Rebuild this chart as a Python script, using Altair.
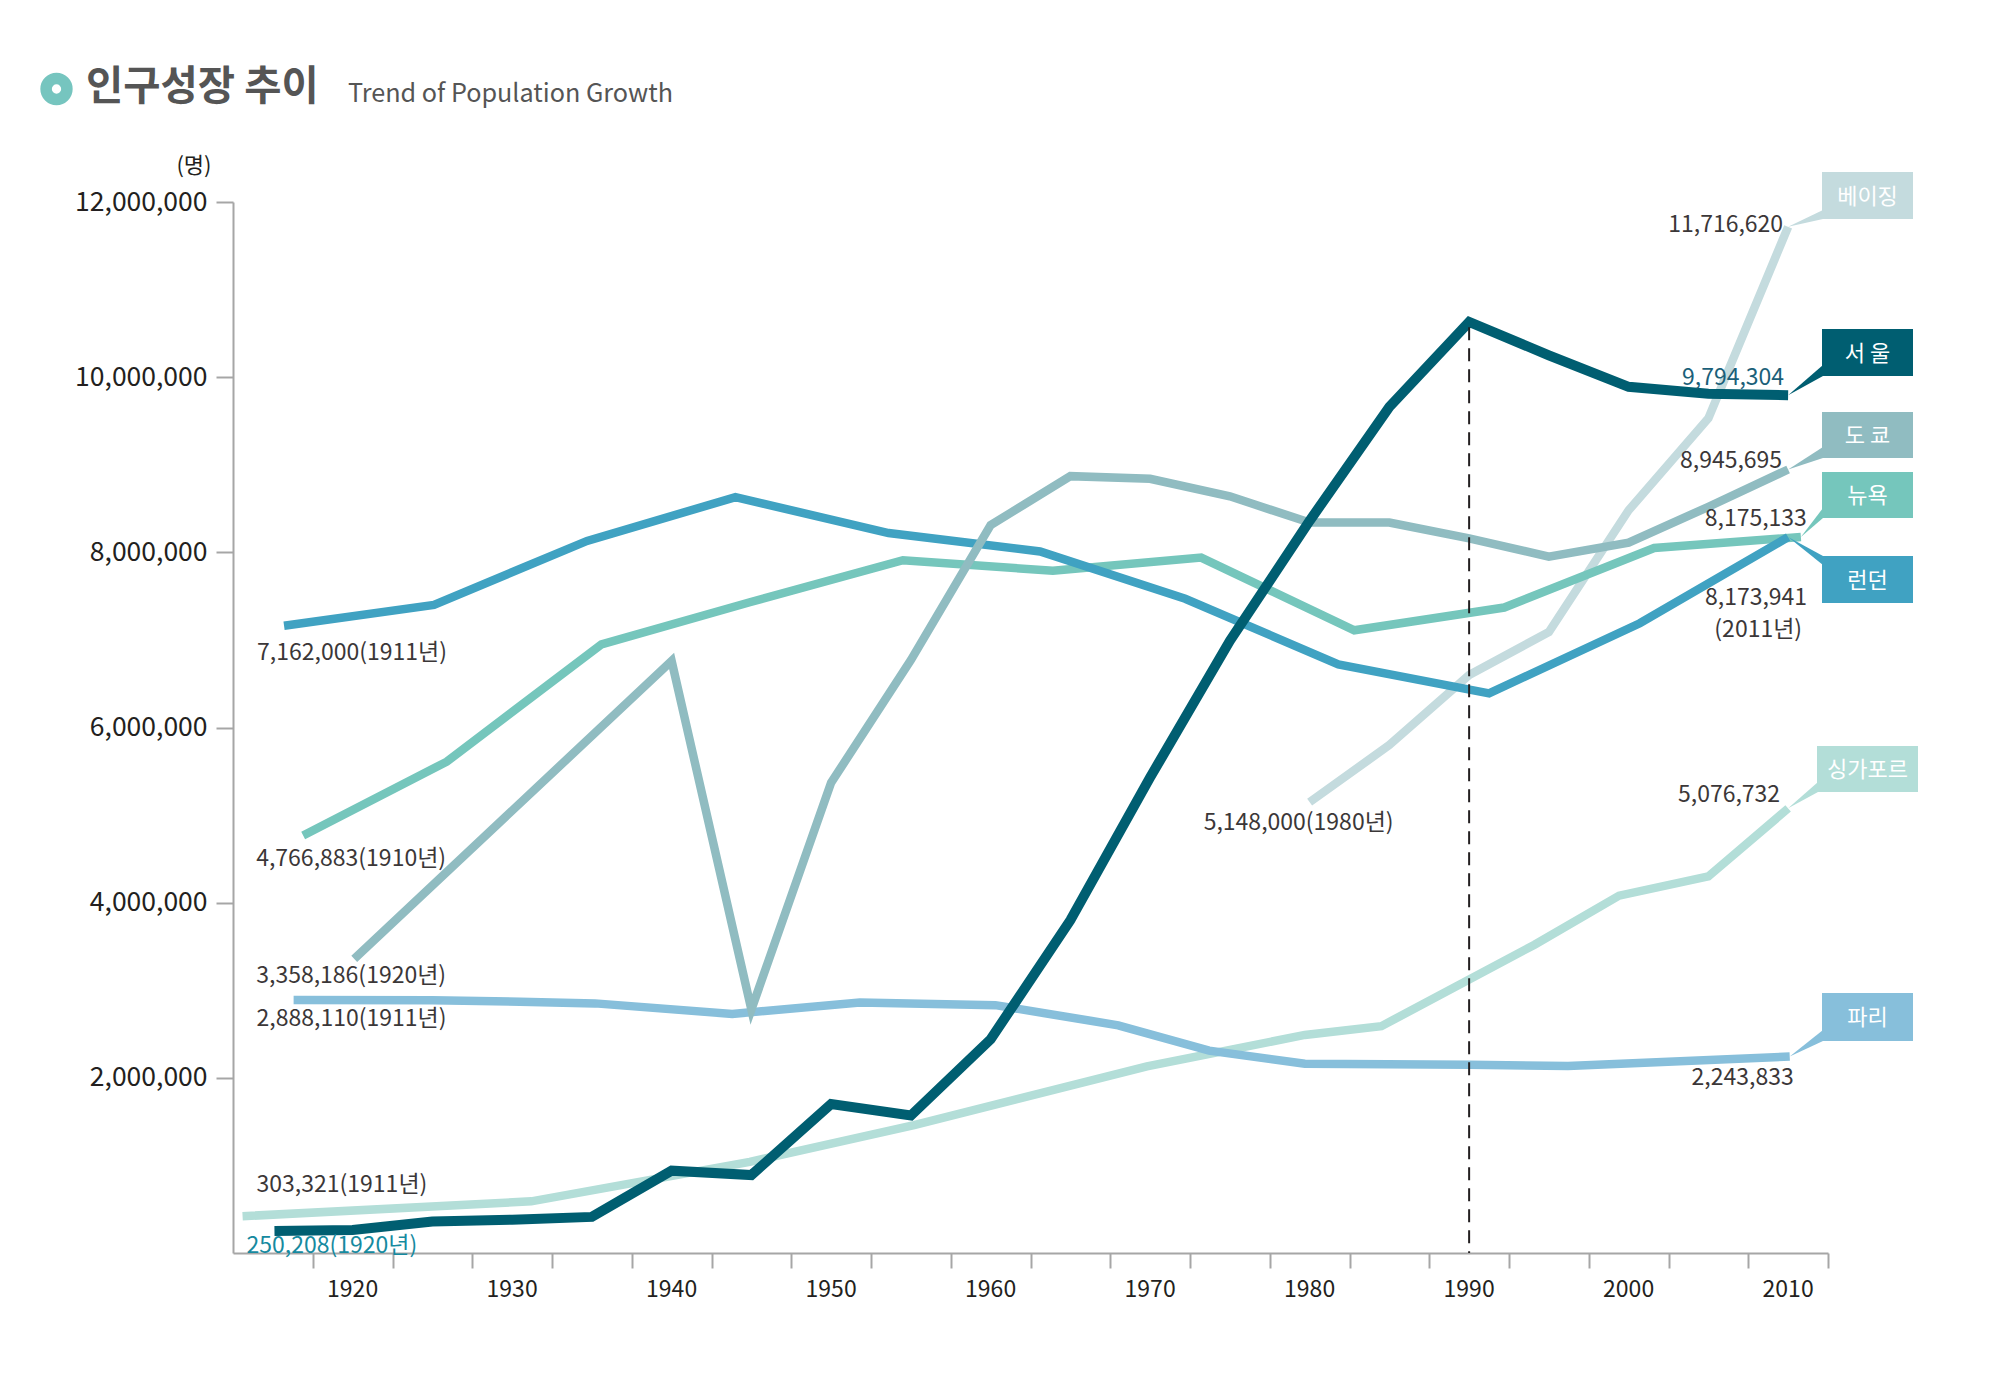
import altair as alt
import pandas as pd

FONT = "Noto Sans CJK KR"

# ---------------- data ----------------
seoul_years = [1915.1, 1920, 1925, 1930, 1935, 1940, 1945, 1950, 1955, 1960, 1965, 1970, 1975, 1980, 1985, 1990, 1995, 2000, 2005, 2010]
seoul_pop = [250208, 262000, 360000, 380000, 412000, 940000, 890000, 1700000, 1570000, 2440000, 3800000, 5430000, 6990000, 8360000, 9660000, 10630000, 10250000, 9890000, 9810000, 9794304]

london_years = [1915.7, 1925.1, 1934.7, 1944.0, 1953.6, 1963.1, 1972.2, 1981.8, 1991.25, 2000.7, 2010]
london_pop = [7162000, 7400000, 8130000, 8630000, 8220000, 8010000, 7470000, 6720000, 6390000, 7190000, 8173941]

newyork_years = [1916.9, 1925.9, 1935.6, 1944.9, 1954.5, 1963.9, 1973.2, 1982.8, 1992.2, 2001.6, 2010.8]
newyork_pop = [4766883, 5610000, 6950000, 7430000, 7910000, 7790000, 7940000, 7110000, 7370000, 8050000, 8175133]

tokyo_years = [1920.1, 1940, 1945, 1950, 1955, 1960, 1965, 1970, 1975, 1980, 1985, 1990, 1995, 2000, 2005, 2010]
tokyo_pop = [3358186, 6760000, 2780000, 5370000, 6770000, 8310000, 8870000, 8840000, 8640000, 8340000, 8340000, 8160000, 7950000, 8110000, 8520000, 8945695]

paris_years = [1916.3, 1925, 1930.5, 1935.2, 1943.8, 1951.8, 1960.3, 1968.0, 1973.7, 1979.7, 1990, 1996.2, 2010.1]
paris_pop = [2888110, 2885000, 2870000, 2850000, 2730000, 2860000, 2830000, 2600000, 2310000, 2160000, 2150000, 2135000, 2243833]

beijing_years = [1980, 1985, 1990, 1995, 2000, 2005, 2010]
beijing_pop = [5148000, 5800000, 6600000, 7090000, 8480000, 9530000, 11716620]

singapore_years = [1913.1, 1931.2, 1944.9, 1955.2, 1969.8, 1979.7, 1984.5, 1994.1, 1999.4, 2005, 2010]
singapore_pop = [420000, 590000, 1040000, 1460000, 2130000, 2490000, 2590000, 3520000, 4080000, 4300000, 5076732]

decade_labels = [1920, 1930, 1940, 1950, 1960, 1970, 1980, 1990, 2000, 2010]
tick_years = [1917.5 + 5 * i for i in range(20)]
y_ticks = [2000000, 4000000, 6000000, 8000000, 10000000, 12000000]
marker_year = 1990

# ---------------- layout / style ----------------
W, H = 1595, 1051
X_DOMAIN = [1912.5, 2012.5]
Y_DOMAIN = [0, 12000000]
TEXT = "#3b3738"
AXIS_GRAY = "#a6a6a6"
NUM_SIZE = 23

series = {
    "싱가포르": (singapore_years, singapore_pop, "#b3ded8", 8.5),
    "파리": (paris_years, paris_pop, "#87bfdb", 8.5),
    "베이징": (beijing_years, beijing_pop, "#c4dbde", 8.5),
    "뉴욕": (newyork_years, newyork_pop, "#75c6bc", 8.5),
    "런던": (london_years, london_pop, "#40a2c2", 8.5),
    "도쿄": (tokyo_years, tokyo_pop, "#90bcc1", 8.5),
    "서울": (seoul_years, seoul_pop, "#005e71", 10),
}


def px2year(px):
    return X_DOMAIN[0] + px / W * (X_DOMAIN[1] - X_DOMAIN[0])


def px2val(py):
    return Y_DOMAIN[1] - py / H * (Y_DOMAIN[1] - Y_DOMAIN[0])


xscale = alt.Scale(domain=X_DOMAIN, nice=False, zero=False)
yscale = alt.Scale(domain=Y_DOMAIN, nice=False, zero=True)
xaxis = alt.Axis(values=tick_years, labels=False, ticks=True, tickSize=15, tickWidth=2,
                 tickColor=AXIS_GRAY, domainColor=AXIS_GRAY, domainWidth=2, grid=False, title=None)
yaxis = alt.Axis(values=y_ticks, format=",d", tickSize=17, tickWidth=2, tickColor=AXIS_GRAY,
                 domainColor=AXIS_GRAY, domainWidth=2, grid=False, title=None,
                 labelFont=FONT, labelFontSize=26.5, labelColor="#231f20", labelPadding=9)

X = lambda f="year": alt.X(f + ":Q", scale=xscale, axis=xaxis)
Y = lambda f="pop": alt.Y(f + ":Q", scale=yscale, axis=yaxis)

layers = []

# lines
for name, (yrs, pops, col, w) in series.items():
    df = pd.DataFrame({"year": yrs, "pop": pops})
    layers.append(
        alt.Chart(df).mark_line(color=col, strokeWidth=w, strokeCap="butt", strokeJoin="miter")
        .encode(x=X(), y=Y())
    )

# dashed marker at 1990
seoul_1990 = seoul_pop[seoul_years.index(marker_year)]
rule_df = pd.DataFrame({"year": [marker_year], "top": [seoul_1990 - 60000], "bottom": [0]})
layers.append(
    alt.Chart(rule_df).mark_rule(color="#231f20", strokeWidth=2, strokeDash=[13, 8])
    .encode(x=X(), y=Y("top"), y2="bottom:Q")
)

# value labels anchored to first / last points: (text, city, which, align, dx, dy, color)
value_labels = [
    ("7,162,000(1911년)", "런던", 0, "left", -27, 27, TEXT),
    ("4,766,883(1910년)", "뉴욕", 0, "left", -47, 23, TEXT),
    ("3,358,186(1920년)", "도쿄", 0, "left", -98, 17, TEXT),
    ("2,888,110(1911년)", "파리", 0, "left", -37, 19, TEXT),
    ("303,321(1911년)", "싱가포르", 0, "left", 14, -31, TEXT),
    ("250,208(1920년)", "서울", 0, "left", -28, 15, "#168aa0"),
    ("5,148,000(1980년)", "베이징", 0, "center", -11, 21, TEXT),
    ("11,716,620", "베이징", -1, "right", -5, -2, TEXT),
    ("9,794,304", "서울", -1, "right", -4, -17, "#1b5f79"),
    ("8,945,695", "도쿄", -1, "right", -6, -9, TEXT),
    ("8,175,133", "뉴욕", -1, "right", 6, -18, TEXT),
    ("8,173,941", "런던", -1, "right", 19, 61, TEXT),
    ("(2011년)", "런던", -1, "right", 14, 93, TEXT),
    ("5,076,732", "싱가포르", -1, "right", -8, -13, TEXT),
    ("2,243,833", "파리", -1, "right", 4, 22, TEXT),
]
for text, city, idx, align, dx, dy, col in value_labels:
    yrs, pops, _, _ = series[city]
    df = pd.DataFrame({"year": [yrs[idx]], "pop": [pops[idx]], "t": [text]})
    layers.append(
        alt.Chart(df).mark_text(align=align, baseline="middle", dx=dx, dy=dy, font=FONT,
                                fontSize=NUM_SIZE, color=col)
        .encode(x=X(), y=Y(), text="t:N")
    )

# legend boxes at line ends: name, box x0, x1, y0, y1 (plot px), pointer base y0, y1, label
boxes = [
    ("베이징", 1589, 1680, -30, 17, 8, 17, "베이징"),
    ("서울", 1589, 1680, 127, 174, 163, 174, "서 울"),
    ("도쿄", 1589, 1680, 210, 256, 245, 256, "도 쿄"),
    ("뉴욕", 1589, 1680, 270, 316, 306, 316, "뉴욕"),
    ("런던", 1589, 1680, 354, 401, 354, 363, "런던"),
    ("싱가포르", 1584, 1685, 544, 590, 580, 590, "싱가포르"),
    ("파리", 1589, 1680, 791, 839, 828, 839, "파리"),
]
for city, bx0, bx1, by0, by1, py0, py1, label in boxes:
    yrs, pops, col, _ = series[city]
    tri = pd.DataFrame({
        "year": [yrs[-1], px2year(bx0 + 1)],
        "a": [pops[-1], px2val(py0)],
        "b": [pops[-1], px2val(py1)],
    })
    layers.append(
        alt.Chart(tri).mark_area(color=col, opacity=1, orient="vertical")
        .encode(x=X(), y=alt.Y("a:Q", scale=yscale, axis=yaxis, stack=None), y2="b:Q")
    )
    rect = pd.DataFrame({"x0": [px2year(bx0)], "x1": [px2year(bx1)],
                         "y0": [px2val(by0)], "y1": [px2val(by1)], "t": [label],
                         "xm": [px2year((bx0 + bx1) / 2)], "ym": [px2val((by0 + by1) / 2)]})
    layers.append(
        alt.Chart(rect).mark_rect(color=col, opacity=1)
        .encode(x=X("x0"), x2="x1:Q", y=Y("y0"), y2="y1:Q")
    )
    layers.append(
        alt.Chart(rect).mark_text(color="white", font=FONT, fontSize=22, align="center",
                                  baseline="middle", dy=1)
        .encode(x=X("xm"), y=Y("ym"), text="t:N")
    )

# decade labels under the x axis
dl = pd.DataFrame({"year": decade_labels, "t": [str(d) for d in decade_labels]})
layers.append(
    alt.Chart(dl).mark_text(font=FONT, fontSize=23, color="#231f20", align="center", baseline="middle")
    .encode(x=X(), y=alt.value(H + 37), text="t:N")
)

# unit label and title
one = pd.DataFrame({"k": [0]})
layers.append(
    alt.Chart(one).mark_text(text="(명)", font=FONT, fontSize=22, color="#231f20",
                             align="center", baseline="middle")
    .encode(x=alt.value(-39), y=alt.value(-36))
)
layers.append(
    alt.Chart(one).mark_point(shape="circle", filled=False, color="#76c5bf", strokeWidth=11.5,
                              size=434, opacity=1)
    .encode(x=alt.value(-176.5), y=alt.value(-113))
)
layers.append(
    alt.Chart(one).mark_text(text="인구성장 추이", font=FONT, fontSize=40.5, fontWeight="bold",
                             color="#555555", align="left", baseline="middle")
    .encode(x=alt.value(-147), y=alt.value(-114))
)
layers.append(
    alt.Chart(one).mark_text(text="Trend of Population Growth", font=FONT, fontSize=25.2,
                             color="#555555", align="left", baseline="alphabetic")
    .encode(x=alt.value(115), y=alt.value(-100))
)

chart = (
    alt.layer(*layers)
    .properties(width=W, height=H,
                padding={"left": 233, "top": 202, "right": 172, "bottom": 137},
                autosize=alt.AutoSizeParams(type="none"))
    .configure(background="white", view=alt.ViewConfig(stroke=None))
)

chart.save("out.html", embed_options={"renderer": "svg", "actions": False})
